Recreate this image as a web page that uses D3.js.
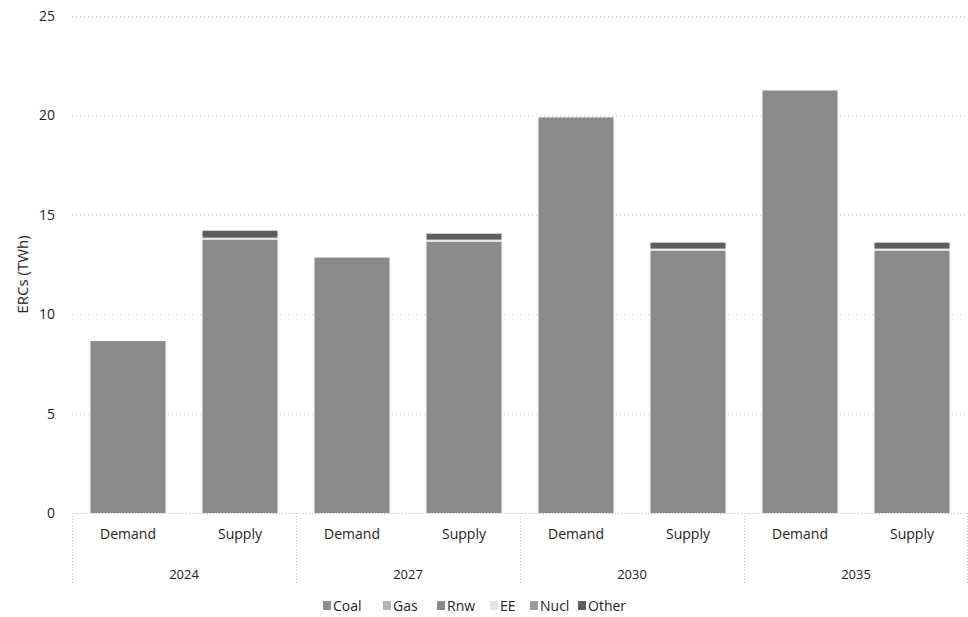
<!DOCTYPE html>
<html>
<head>
<meta charset="utf-8">
<script src="https://cdn.jsdelivr.net/npm/d3@7"></script>
<style>
  html, body { margin: 0; padding: 0; background: #fff; }
  svg { display: block; }
  text { font-family: "Open Sans", "Noto Sans", sans-serif; fill: #222; }
</style>
</head>
<body>
<svg id="chart" width="968" height="617"></svg>
<script>
// ERC demand vs supply by year (TWh)
const years = ["2024", "2027", "2030", "2035"];
const kinds = ["Demand", "Supply"];
const seriesNames = ["Coal", "Gas", "Rnw", "EE", "Nucl", "Other"];
const seriesColors = ["#8e8e8e", "#b4b4b4", "#8a8a8a", "#e4e4e4", "#9a9a9a", "#5e5e5e"];

// Demand totals per year
const demand = [8.65, 12.85, 19.9, 21.25];
// Supply mix per year
const coal  = [0, 0, 0, 0];
const gas   = [0, 0, 0, 0];
const rnw   = [13.75, 13.65, 13.2, 13.2];
const ee    = [0.1, 0.1, 0.1, 0.1];
const nucl  = [0, 0, 0, 0];
const other = [0.35, 0.3, 0.3, 0.3];
const yTicks = [0, 5, 10, 15, 20, 25];

const supplyBySeries = [coal, gas, rnw, ee, nucl, other];

// Build stacked rows: each row is one bar (year + kind)
const rows = [];
years.forEach((yr, i) => {
  const d = { key: yr + "|Demand", year: yr, kind: "Demand" };
  seriesNames.forEach(s => d[s] = 0);
  d.Rnw = demand[i];
  rows.push(d);
  const s = { key: yr + "|Supply", year: yr, kind: "Supply" };
  seriesNames.forEach((n, j) => s[n] = supplyBySeries[j][i]);
  rows.push(s);
});

const svg = d3.select("#chart");
const margin = { left: 72, right: 0, top: 16, bottom: 104 };
const W = 968, H = 617;
const x0 = margin.left, x1 = W - margin.right;
const yBase = 513, yTop = 16;

const x = d3.scaleBand().domain(rows.map(r => r.key)).range([x0, x1]).paddingInner(0.33).paddingOuter(0.165);
const xGroup = d3.scaleBand().domain(years).range([x0, x1]);
const y = d3.scaleLinear().domain([0, 25]).range([yBase, yTop]);

// Gridlines
svg.append("g").selectAll("line").data(yTicks.filter(t => t > 0)).join("line")
  .attr("x1", x0).attr("x2", x1)
  .attr("y1", d => y(d) + 0.5).attr("y2", d => y(d) + 0.5)
  .attr("stroke", "#c8c8c8").attr("stroke-width", 1).attr("stroke-dasharray", "1,3");

// Y axis labels
const yAxis = d3.axisLeft(y).tickValues(yTicks).tickSize(0).tickPadding(0);
const gy = svg.append("g").attr("transform", `translate(${x0 - 17},0)`).call(yAxis);
gy.select(".domain").remove();
gy.selectAll("text").style("font-size", "14px").style("font-family", "'Open Sans', sans-serif").attr("fill", "#222").attr("dy", "0.32em");

svg.append("text")
  .attr("transform", `translate(28,${(yBase + yTop) / 2 + 10}) rotate(-90)`)
  .attr("text-anchor", "middle").style("font-size", "15px").text("ERCs (TWh)");

// Stacked bars
const stack = d3.stack().keys(seriesNames);
const layers = stack(rows);
svg.append("g").selectAll("g").data(layers).join("g")
  .attr("fill", (d, i) => seriesColors[i])
  .selectAll("rect").data(d => d).join("rect")
  .attr("x", d => x(d.data.key))
  .attr("width", x.bandwidth())
  .attr("y", d => y(d[1]))
  .attr("height", d => Math.max(0, y(d[0]) - y(d[1])));

// Baseline
svg.append("line").attr("x1", x0).attr("x2", x1).attr("y1", yBase + 0.5).attr("y2", yBase + 0.5)
  .attr("stroke", "#bdbdbd").attr("stroke-dasharray", "1,2");

// Group separators of the two-level category axis
const seps = years.map(yr => xGroup(yr)).concat([x1 - 1]);
svg.append("g").selectAll("line").data(seps).join("line")
  .attr("x1", d => d + 0.5).attr("x2", d => d + 0.5)
  .attr("y1", yBase).attr("y2", 584)
  .attr("stroke", "#c4c4c4").attr("stroke-dasharray", "1,2");

// Category labels
const xAxis = d3.axisBottom(x).tickSize(0).tickPadding(0).tickFormat(k => k.split("|")[1]);
const gx = svg.append("g").attr("transform", `translate(0,${yBase + 16})`).call(xAxis);
gx.select(".domain").remove();
gx.selectAll("text").style("font-size", "14px").style("font-family", "'Open Sans', sans-serif").attr("fill", "#222").attr("dy", "0.71em");

const xgAxis = d3.axisBottom(xGroup).tickSize(0).tickPadding(0);
const gg = svg.append("g").attr("transform", `translate(0,${yBase + 57})`).call(xgAxis);
gg.select(".domain").remove();
gg.selectAll("text").style("font-size", "13px").style("font-family", "'Open Sans', sans-serif").attr("fill", "#222").attr("dy", "0.71em");

// Legend
const legendX = [323, 383, 437, 490, 530, 578];
const lg = svg.append("g").selectAll("g").data(seriesNames).join("g")
  .attr("transform", (d, i) => `translate(${legendX[i]},606)`);
lg.append("rect").attr("x", 0).attr("y", -5).attr("width", 8).attr("height", 9)
  .attr("fill", (d, i) => seriesColors[i]);
lg.append("text").attr("x", 10).attr("y", 0).attr("dy", "0.35em")
  .style("font-size", "14px").text(d => d);
</script>
</body>
</html>
